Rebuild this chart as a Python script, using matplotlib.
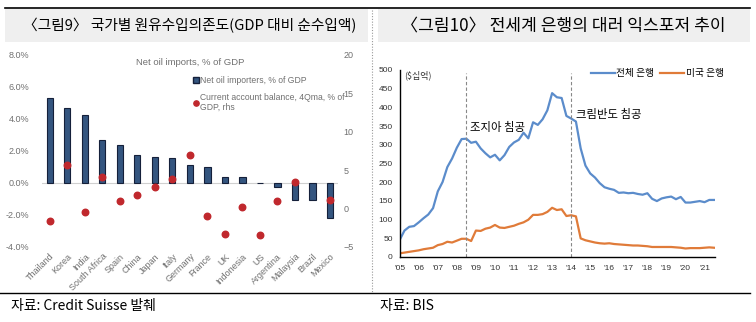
import matplotlib
matplotlib.use("Agg")
import matplotlib.pyplot as plt
from matplotlib.lines import Line2D
from matplotlib.patches import Rectangle
import numpy as np

plt.rcParams['font.family'] = ['Liberation Sans', 'Noto Sans CJK KR', 'DejaVu Sans']
KR = ['Noto Sans CJK KR', 'DejaVu Sans']

# ---- left chart data ----
countries = ["Thailand", "Korea", "India", "South Africa", "Spain", "China", "Japan",
             "Italy", "Germany", "France", "UK", "Indonesia", "US", "Argentina",
             "Malaysia", "Brazil", "Mexico"]
oil_imports = [5.33, 4.67, 4.25, 2.71, 2.35, 1.73, 1.60, 1.54, 1.15, 1.03, 0.40, 0.40,
               0.0, -0.25, -1.06, -1.06, -2.17]
current_account = [-1.66, 5.73, -0.4, 4.08, 0.95, 1.77, 2.82, 3.86, 6.99, -1.0, -3.27,
                   0.25, -3.44, 1.03, 3.47, np.nan, 1.08]

# ---- right chart data (quarterly, 2005Q1 - 2021Q3) ----
all_banks = [45, 70, 80, 82, 92, 103, 113, 130, 175, 200, 240, 263, 292, 315, 316, 305,
             308, 290, 277, 266, 273, 258, 272, 294, 306, 313, 332, 317, 360, 353, 368, 392,
             438, 427, 425, 377, 370, 362, 290, 244, 223, 212, 197, 186, 182, 179, 171, 172,
             170, 171, 168, 166, 170, 155, 149, 156, 159, 161, 154, 160, 145, 145, 147, 149,
             146, 152, 152]
us_banks = [9, 11, 13, 15, 17, 20, 22, 24, 31, 34, 40, 38, 43, 48, 48, 42,
            70, 69, 75, 78, 85, 78, 77, 80, 83, 88, 92, 99, 112, 112, 114, 120,
            131, 125, 127, 109, 111, 108, 49, 44, 41, 38, 36, 35, 36, 34, 33, 32,
            31, 30, 30, 29, 28, 26, 26, 26, 26, 26, 25, 24, 22, 23, 23, 23,
            24, 25, 24]
quarters = 2005 + 0.25 * np.arange(len(all_banks))
year_labels = ["'05", "'06", "'07", "'08", "'09", "'10", "'11", "'12", "'13", "'14",
               "'15", "'16", "'17", "'18", "'19", "'20", "'21"]
events = [2008.5, 2014.0]
event_labels = ["조지아 침공", "크림반도 침공"]

W, H = 756, 322
fig = plt.figure(figsize=(W / 100, H / 100), dpi=100)


def px(x0, y0, x1, y1):
    return [x0 / W, 1 - y1 / H, (x1 - x0) / W, (y1 - y0) / H]


# ---- page decorations ----
bg = fig.add_axes([0, 0, 1, 1])
bg.set_xlim(0, W)
bg.set_ylim(H, 0)
bg.axis("off")
bg.add_patch(Rectangle((5, 9), 363, 33, color="#efefef", lw=0))
bg.add_patch(Rectangle((378, 9), 372, 33, color="#efefef", lw=0))
bg.plot([5, 750], [8, 8], color="black", lw=1.2)
bg.plot([0, 750], [292.5, 292.5], color="black", lw=1.0)
bg.plot([372, 372], [10, 292], color="#999999", lw=0.8, ls=(0, (1, 1.5)))
bg.text(190, 26, "〈그림9〉 국가별 원유수입의존도(GDP 대비 순수입액)", family=KR,
        fontsize=10.6, ha="center", va="center")
bg.text(563, 26, "〈그림10〉 전세계 은행의 대러 익스포저 추이", family=KR,
        fontsize=12.3, ha="center", va="center")
bg.text(11, 306, "자료: Credit Suisse 발췌", family=KR, fontsize=10, va="center")
bg.text(380, 306, "자료: BIS", family=KR, fontsize=10, va="center")

# ---- left chart ----
ax = fig.add_axes(px(41.7, 55, 338, 247))
x = np.arange(len(countries))
ax.bar(x, oil_imports, width=0.36, color="#34557f", edgecolor="#15203a", lw=0.8, zorder=3)
ax.set_xlim(-0.46, 16.46)
ax.set_ylim(-4, 8)
ax.set_yticks([-4, -2, 0, 2, 4, 6, 8])
ax.set_yticklabels(["-4.0%", "-2.0%", "0.0%", "2.0%", "4.0%", "6.0%", "8.0%"])
ax.axhline(0, color="#d0d0d0", lw=0.8, zorder=1)
for s in ax.spines.values():
    s.set_visible(False)
ax.tick_params(axis="both", length=0, labelsize=6.5, colors="#707070")
ax.tick_params(axis="y", pad=9)
ax.set_xticks(x)
ax.set_xticklabels(countries, rotation=45, ha="right", rotation_mode="anchor")

ax.text(0.5, 0.96, "Net oil imports, % of GDP", transform=ax.transAxes, ha="center",
        va="center", fontsize=6.8, color="#707070")
handles = [Line2D([], [], marker="s", ls="", markersize=4.5, markerfacecolor="#34557f",
                  markeredgecolor="#15203a"),
           Line2D([], [], marker="o", ls="", markersize=3.8, color="#c0282d")]
leg = ax.legend(handles, ["Net oil importers, % of GDP",
                          "Current account balance, 4Qma, % of\nGDP, rhs"],
                loc="upper left", bbox_to_anchor=((193 - 41.7) / 296.3, (247 - 76) / 192),
                frameon=False, fontsize=6.2, handlelength=0.6, handletextpad=0.2,
                labelspacing=0.9, borderaxespad=0, borderpad=0)
for t in leg.get_texts():
    t.set_color("#707070")

# dots on the right axis, drawn above the bars
ax2 = ax.twinx()
ax2.scatter(x, current_account, s=22, color="#c0282d", zorder=4)
ax2.set_ylim(-5, 20)
ax2.set_yticks([-5, 0, 5, 10, 15, 20])
for s in ax2.spines.values():
    s.set_visible(False)
ax2.tick_params(axis="y", length=0, labelsize=6.5, colors="#707070", pad=4)

# ---- right chart ----
bx = fig.add_axes(px(399.7, 70, 715, 256.7))
bx.plot(quarters, all_banks, color="#5b8ccb", lw=1.6, label="전체 은행")
bx.plot(quarters, us_banks, color="#e07b39", lw=1.6, label="미국 은행")
bx.set_xlim(2005, 2021.55)
bx.set_ylim(0, 500)
bx.set_yticks(range(0, 501, 50))
bx.set_xticks(range(2005, 2022))
bx.set_xticklabels(year_labels)
for s in ["top", "right"]:
    bx.spines[s].set_visible(False)
bx.spines["left"].set_linewidth(1.0)
bx.spines["bottom"].set_linewidth(1.0)
bx.tick_params(axis="both", length=0, labelsize=6, colors="#333333")
bx.tick_params(axis="x", pad=6)
bx.tick_params(axis="y", pad=5)
for e in events:
    bx.axvline(e, ymax=0.985, color="#888888", lw=0.8, ls=(0, (3, 2)))
bx.text(2008.7, 345, event_labels[0], family=KR, fontsize=8.2, va="center")
bx.text(2014.25, 380, event_labels[1], family=KR, fontsize=8.2, va="center")
bx.text(2005.25, 485, "($십억)", family=KR, fontsize=6.5, va="center", color="#333333")
bx.legend(loc="upper left", bbox_to_anchor=(0.595, 1.03), ncol=2, frameon=False,
          prop={"family": KR, "size": 7}, handlelength=2.4, handletextpad=0.2,
          columnspacing=0.6, borderaxespad=0)

fig.savefig("out.png", dpi=100)
